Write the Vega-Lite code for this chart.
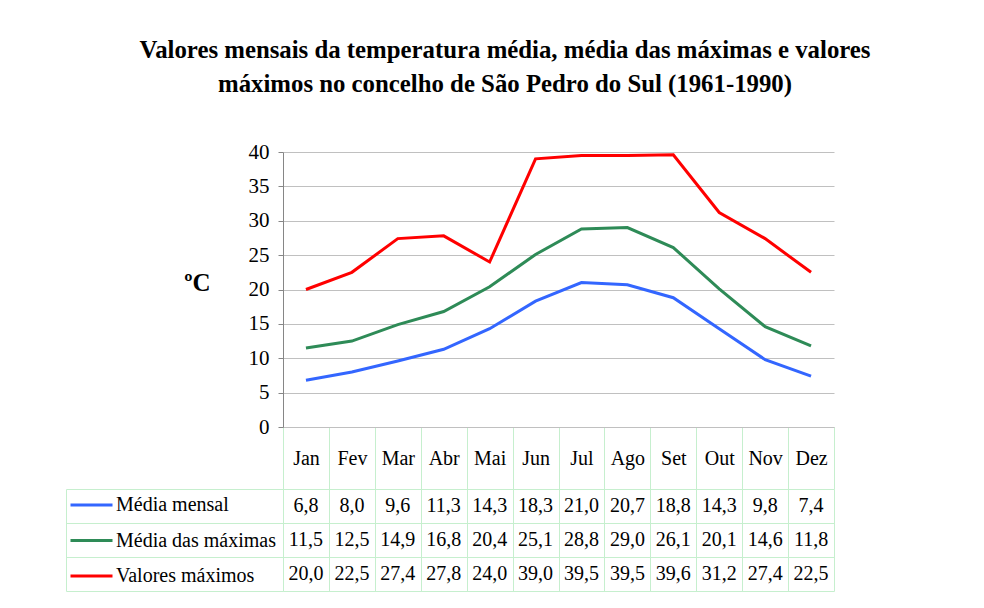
{
  "$schema": "https://vega.github.io/schema/vega-lite/v6.json",
  "background": "white",
  "padding": {"left": 65, "top": 38, "right": 10, "bottom": 10},
  "config": {
    "font": "Liberation Serif",
    "locale": {"number": {"decimal": ",", "thousands": ".", "grouping": [3], "currency": ["", " €"]}},
    "view": {"stroke": null},
    "legend": {"labelFont": "Liberation Serif"}
  },
  "title": {
    "text": ["Valores mensais da temperatura média, média das máximas e valores", "máximos no concelho de São Pedro do Sul (1961-1990)"],
    "fontSize": 24.8, "fontWeight": "bold", "font": "Liberation Serif", "lineHeight": 34,
    "anchor": "middle", "offset": 44, "dx": 55, "color": "black"
  },
  "data": {"values": [
    {"month": "Jan", "series": "Média mensal", "value": 6.8},
    {"month": "Fev", "series": "Média mensal", "value": 8.0},
    {"month": "Mar", "series": "Média mensal", "value": 9.6},
    {"month": "Abr", "series": "Média mensal", "value": 11.3},
    {"month": "Mai", "series": "Média mensal", "value": 14.3},
    {"month": "Jun", "series": "Média mensal", "value": 18.3},
    {"month": "Jul", "series": "Média mensal", "value": 21.0},
    {"month": "Ago", "series": "Média mensal", "value": 20.7},
    {"month": "Set", "series": "Média mensal", "value": 18.8},
    {"month": "Out", "series": "Média mensal", "value": 14.3},
    {"month": "Nov", "series": "Média mensal", "value": 9.8},
    {"month": "Dez", "series": "Média mensal", "value": 7.4},
    {"month": "Jan", "series": "Média das máximas", "value": 11.5},
    {"month": "Fev", "series": "Média das máximas", "value": 12.5},
    {"month": "Mar", "series": "Média das máximas", "value": 14.9},
    {"month": "Abr", "series": "Média das máximas", "value": 16.8},
    {"month": "Mai", "series": "Média das máximas", "value": 20.4},
    {"month": "Jun", "series": "Média das máximas", "value": 25.1},
    {"month": "Jul", "series": "Média das máximas", "value": 28.8},
    {"month": "Ago", "series": "Média das máximas", "value": 29.0},
    {"month": "Set", "series": "Média das máximas", "value": 26.1},
    {"month": "Out", "series": "Média das máximas", "value": 20.1},
    {"month": "Nov", "series": "Média das máximas", "value": 14.6},
    {"month": "Dez", "series": "Média das máximas", "value": 11.8},
    {"month": "Jan", "series": "Valores máximos", "value": 20.0},
    {"month": "Fev", "series": "Valores máximos", "value": 22.5},
    {"month": "Mar", "series": "Valores máximos", "value": 27.4},
    {"month": "Abr", "series": "Valores máximos", "value": 27.8},
    {"month": "Mai", "series": "Valores máximos", "value": 24.0},
    {"month": "Jun", "series": "Valores máximos", "value": 39.0},
    {"month": "Jul", "series": "Valores máximos", "value": 39.5},
    {"month": "Ago", "series": "Valores máximos", "value": 39.5},
    {"month": "Set", "series": "Valores máximos", "value": 39.6},
    {"month": "Out", "series": "Valores máximos", "value": 31.2},
    {"month": "Nov", "series": "Valores máximos", "value": 27.4},
    {"month": "Dez", "series": "Valores máximos", "value": 22.5}
  ]},
  "bounds": "flush",
  "spacing": 62,
  "vconcat": [
    {
      "width": 551,
      "height": 275,
      "mark": {"type": "line", "strokeWidth": 3},
      "encoding": {
        "x": {
          "field": "month", "type": "ordinal",
          "sort": ["Jan", "Fev", "Mar", "Abr", "Mai", "Jun", "Jul", "Ago", "Set", "Out", "Nov", "Dez"],
          "scale": {"paddingInner": 0, "paddingOuter": 0},
          "axis": {"title": null, "labelAngle": 0, "labelFontSize": 20, "labelColor": "black",
                   "tickBand": "extent", "tickSize": 62, "tickColor": "#c6efce",
                   "domainColor": "#c0c0c0", "labelPadding": -31, "labelBaseline": "middle"}
        },
        "y": {
          "field": "value", "type": "quantitative",
          "scale": {"domain": [0, 40]},
          "axis": {"values": [0, 5, 10, 15, 20, 25, 30, 35, 40],
                   "title": "ºC", "titleAngle": 0, "titleFontSize": 25, "titleFontWeight": "bold",
                   "titleColor": "black", "titleX": -86, "titleY": 130, "titleAlign": "center", "titleBaseline": "middle",
                   "labelFontSize": 21, "labelColor": "black", "labelPadding": 9,
                   "gridColor": "#c0c0c0", "domainColor": "#868686", "tickColor": "#868686", "tickSize": 5}
        },
        "color": {
          "field": "series", "type": "nominal",
          "scale": {"domain": ["Média mensal", "Média das máximas", "Valores máximos"], "range": ["#3366ff", "#2e8b57", "#ff0000"]},
          "legend": {"orient": "none", "legendX": -214, "legendY": 330.5, "title": null,
                     "symbolType": "stroke", "symbolSize": 1764, "symbolStrokeWidth": 3,
                     "labelFont": "Liberation Serif", "labelFontSize": 20, "labelColor": "black",
                     "padding": 0, "rowPadding": 2.5, "labelOffset": 2, "symbolOffset": 0}
        }
      }
    },
    {
      "width": 551,
      "height": 102,
      "layer": [
        {
          "mark": {"type": "text", "fontSize": 20, "color": "black"},
          "encoding": {
            "x": {
              "field": "month", "type": "ordinal",
              "sort": ["Jan", "Fev", "Mar", "Abr", "Mai", "Jun", "Jul", "Ago", "Set", "Out", "Nov", "Dez"],
              "scale": {"paddingInner": 0, "paddingOuter": 0},
              "axis": {"title": null, "labels": false, "ticks": false, "domain": false,
                       "grid": true, "gridColor": "#c6efce", "tickBand": "extent"}
            },
            "y": {
              "field": "series", "type": "nominal",
              "sort": ["Média mensal", "Média das máximas", "Valores máximos"],
              "scale": {"paddingInner": 0, "paddingOuter": 0},
              "axis": {"title": null, "labels": false, "tickSize": 217, "tickBand": "extent",
                       "tickColor": "#c6efce", "grid": true, "gridColor": "#c6efce", "domainColor": "#c6efce"}
            },
            "text": {"field": "value", "type": "quantitative", "format": ".1f"}
          }
        },
        {
          "mark": {"type": "text", "text": ""},
          "encoding": {
            "y": {
              "field": "series", "type": "nominal",
              "sort": ["Média mensal", "Média das máximas", "Valores máximos"],
              "axis": {"orient": "left", "offset": 217, "title": null, "labels": false, "ticks": false,
                       "grid": false, "domainColor": "#c6efce"}
            }
          }
        }
      ],
      "resolve": {"axis": {"y": "independent"}}
    }
  ]
}
